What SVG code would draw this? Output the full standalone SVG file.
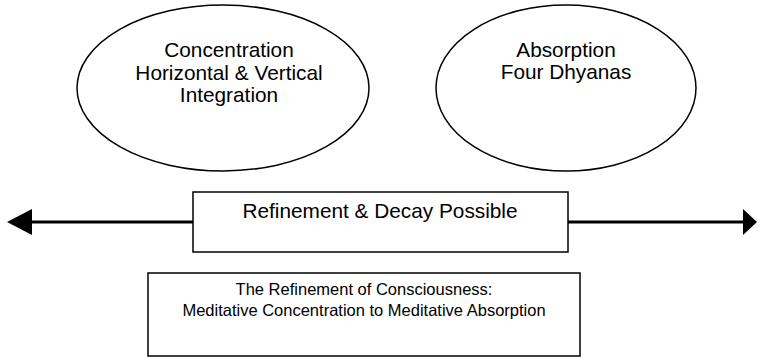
<svg xmlns="http://www.w3.org/2000/svg" width="763" height="358" viewBox="0 0 763 358">
<style>
.s{fill:#fff;stroke:#000;stroke-width:1.5}
.t{font-family:"Liberation Sans",Arial,sans-serif;fill:#000;text-anchor:middle}
.l{font-size:20.8px}
.m{font-size:16.5px}
</style>
<rect width="763" height="358" fill="#fff"/>
<g id="connectors">
<line x1="30" y1="222" x2="193" y2="222" stroke="#000" stroke-width="3"/>
<line x1="568" y1="222" x2="745" y2="222" stroke="#000" stroke-width="3"/>
<polygon points="7,222 32,209 32,235" fill="#000"/>
<polygon points="757,222 743,209 743,235" fill="#000"/>
</g>
<g id="concentration">
<ellipse class="s" cx="223" cy="88" rx="146" ry="83"/>
<text class="t l" x="229" y="56.5">Concentration</text>
<text class="t l" x="229" y="80">Horizontal &amp; Vertical</text>
<text class="t l" x="229" y="102">Integration</text>
</g>
<g id="absorption">
<ellipse class="s" cx="566" cy="88" rx="130" ry="83"/>
<text class="t l" x="566" y="56.5">Absorption</text>
<text class="t l" x="566" y="79">Four Dhyanas</text>
</g>
<g id="refinement">
<rect class="s" x="193" y="192" width="375" height="60"/>
<text class="t l" x="380" y="217.5">Refinement &amp; Decay Possible</text>
</g>
<g id="caption">
<rect class="s" x="148" y="273" width="432" height="83"/>
<text class="t m" x="364" y="295">The Refinement of Consciousness:</text>
<text class="t m" x="364" y="316">Meditative Concentration to Meditative Absorption</text>
</g>
</svg>
